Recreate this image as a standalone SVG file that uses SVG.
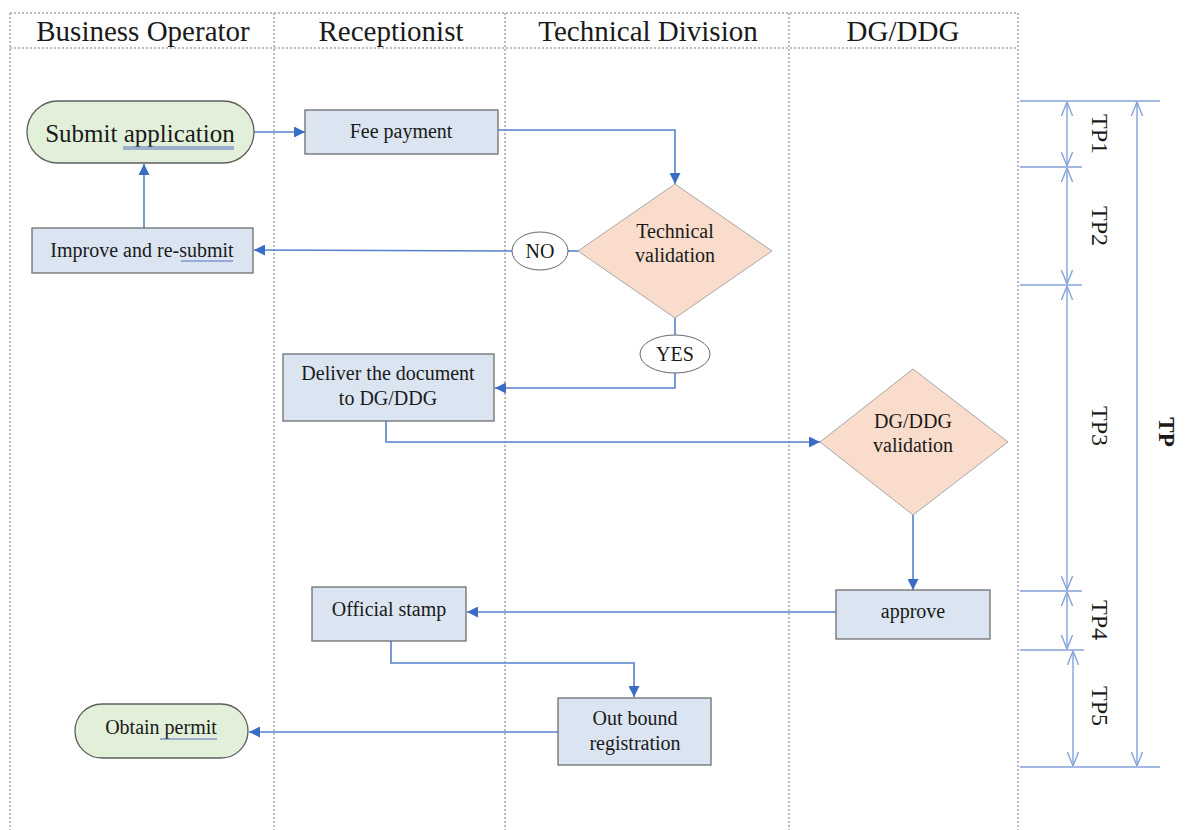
<svg xmlns="http://www.w3.org/2000/svg" width="1186" height="830" viewBox="0 0 1186 830">
<defs>
<style>
text{font-family:"Liberation Serif","Times New Roman",serif;fill:#1a1a1a;text-anchor:middle}
.hdr{font-size:29px}
.t{font-size:20px}
.tp{font-size:24px}
.lane{stroke:#7a7a7a;stroke-width:1;stroke-dasharray:2,2;fill:none}
.box{fill:#dbe5f1;stroke:#6e6e6e;stroke-width:1.3}
.pill{fill:#e2efd9;stroke:#5e5e5e;stroke-width:1.3}
.dia{fill:#f9dccb;stroke:#a8a8a8;stroke-width:1}
.ell{fill:#fff;stroke:#666;stroke-width:1}
.con{stroke:#5682cc;stroke-width:1.6;fill:none}
.dim{stroke:#85a3d8;stroke-width:1.4;fill:none}
.ul{stroke:#5570c0;stroke-width:1}
</style>
<marker id="ah" viewBox="0 0 10 10" refX="10" refY="5" markerWidth="11" markerHeight="11" markerUnits="userSpaceOnUse" orient="auto"><path d="M0,0 L10,5 L0,10 z" fill="#3a6cc6"/></marker>
<marker id="oa" viewBox="0 0 10 10" refX="10" refY="5" markerWidth="14" markerHeight="14" markerUnits="userSpaceOnUse" orient="auto-start-reverse"><path d="M0,1 L10,5 L0,9" fill="none" stroke="#85a3d8" stroke-width="1"/></marker>
</defs>
<rect width="1186" height="830" fill="#fff"/>
<g id="lanes">
<path class="lane" d="M10,13 H1018 M10,48 H1018 M10,13 V830 M274,13 V830 M505,13 V830 M789,13 V830 M1018,13 V830"/>
<text class="hdr" x="143" y="41">Business Operator</text>
<text class="hdr" x="391" y="41">Receptionist</text>
<text class="hdr" x="648" y="41">Technical Division</text>
<text class="hdr" x="903" y="41">DG/DDG</text>
</g>
<g id="connectors">
<path class="con" d="M254,132 H305" marker-end="url(#ah)"/>
<path class="con" d="M498,130 H675 V184" marker-end="url(#ah)"/>
<path class="con" d="M578,251 H568"/>
<path class="con" d="M512,251 L254,250" marker-end="url(#ah)"/>
<path class="con" d="M144,228 V164" marker-end="url(#ah)"/>
<path class="con" d="M675,318 V335"/>
<path class="con" d="M675,373 V388 H495" marker-end="url(#ah)"/>
<path class="con" d="M386,421 V442 H820" marker-end="url(#ah)"/>
<path class="con" d="M913,515 V590" marker-end="url(#ah)"/>
<path class="con" d="M836,612 H467" marker-end="url(#ah)"/>
<path class="con" d="M391,641 V663 H634 V697" marker-end="url(#ah)"/>
<path class="con" d="M559,732 H249" marker-end="url(#ah)"/>
</g>
<g id="submit">
<rect class="pill" x="27" y="101" width="227" height="62" rx="31" ry="31"/>
<text x="140" y="142" style="font-size:25px">Submit application</text>
<path class="ul" d="M123,147 H234 M123,149 H234"/>
</g>
<g id="fee">
<rect class="box" x="305" y="110" width="193" height="44"/>
<text class="t" x="401" y="138">Fee payment</text>
</g>
<g id="techval">
<path class="dia" d="M675,184 L772,251 L675,318 L578,251 z"/>
<text class="t" x="675" y="238">Technical</text>
<text class="t" x="675" y="262">validation</text>
</g>
<g id="no">
<ellipse class="ell" cx="540" cy="251" rx="28" ry="19"/>
<text class="t" x="540" y="258">NO</text>
</g>
<g id="improve">
<rect class="box" x="32" y="228" width="221" height="45"/>
<text class="t" x="142" y="257">Improve and re-submit</text>
<path class="ul" d="M181,261 H233"/>
</g>
<g id="yes">
<ellipse class="ell" cx="675" cy="354" rx="35" ry="19"/>
<text class="t" x="675" y="361">YES</text>
</g>
<g id="deliver">
<rect class="box" x="283" y="354" width="211" height="67"/>
<text class="t" x="388" y="380">Deliver the document</text>
<text class="t" x="388" y="405">to DG/DDG</text>
</g>
<g id="dgval">
<path class="dia" d="M913,369 L1008,442 L913,515 L820,442 z"/>
<text class="t" x="913" y="428">DG/DDG</text>
<text class="t" x="913" y="452">validation</text>
</g>
<g id="approve">
<rect class="box" x="836" y="590" width="154" height="49"/>
<text class="t" x="913" y="618">approve</text>
</g>
<g id="stamp">
<rect class="box" x="312" y="587" width="154" height="54"/>
<text class="t" x="389" y="616">Official stamp</text>
</g>
<g id="outbound">
<rect class="box" x="558" y="698" width="153" height="67"/>
<text class="t" x="635" y="725">Out bound</text>
<text class="t" x="635" y="750">registration</text>
</g>
<g id="obtain">
<rect class="pill" x="75" y="704" width="173" height="54" rx="27" ry="27"/>
<text class="t" x="161" y="734">Obtain permit</text>
<path class="ul" d="M160,739 H217"/>
</g>
<g id="timeline">
<path class="dim" d="M1020,101 H1160 M1020,167 H1082 M1020,285 H1082 M1020,591 H1082 M1020,650 H1084 M1020,767 H1160"/>
<path class="dim" d="M1067,102 V166" marker-start="url(#oa)" marker-end="url(#oa)"/>
<path class="dim" d="M1067,168 V284" marker-start="url(#oa)" marker-end="url(#oa)"/>
<path class="dim" d="M1067,286 V590" marker-start="url(#oa)" marker-end="url(#oa)"/>
<path class="dim" d="M1067,592 V649" marker-start="url(#oa)" marker-end="url(#oa)"/>
<path class="dim" d="M1073,651 V766" marker-start="url(#oa)" marker-end="url(#oa)"/>
<path class="dim" d="M1137,102 V766" marker-start="url(#oa)" marker-end="url(#oa)"/>
<text class="tp" transform="translate(1092,134) rotate(90)">TP1</text>
<text class="tp" transform="translate(1092,226) rotate(90)">TP2</text>
<text class="tp" transform="translate(1092,426) rotate(90)">TP3</text>
<text class="tp" transform="translate(1092,620) rotate(90)">TP4</text>
<text class="tp" transform="translate(1092,706) rotate(90)">TP5</text>
<text transform="translate(1159,432) rotate(90)" style="font-size:23px;font-weight:bold">TP</text>
</g>
</svg>
